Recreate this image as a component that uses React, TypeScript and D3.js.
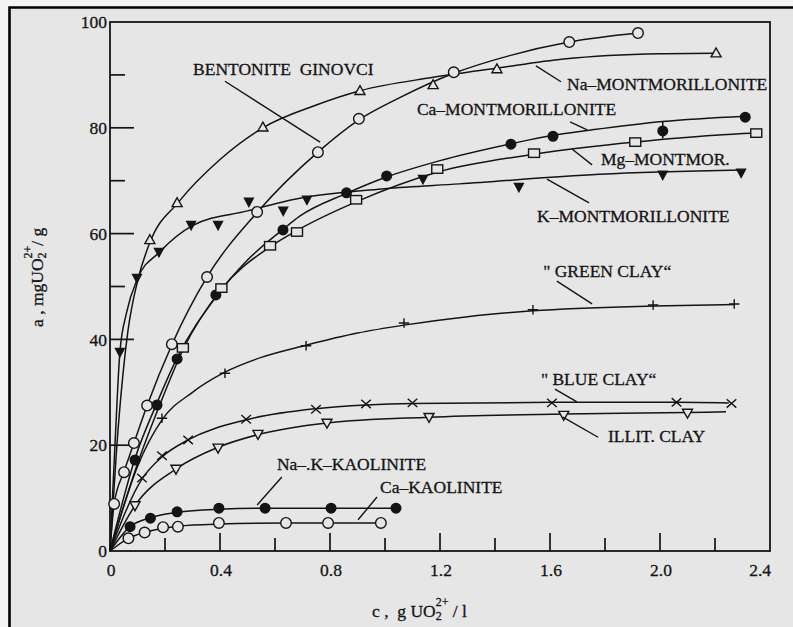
import React from 'react';
import * as d3 from 'd3';

type Pt = [number, number];

const bentonite: Pt[] = [
  [0.015, 8.9], [0.051, 14.9], [0.087, 20.4], [0.135, 27.5], [0.225, 39.1], [0.353, 51.8],
  [0.535, 64.1], [0.756, 75.4], [0.905, 81.7], [1.25, 90.5], [1.67, 96.2], [1.92, 97.9],
];
const naMont: Pt[] = [
  [0.145, 58.8], [0.244, 65.8], [0.556, 80.1], [0.909, 87], [1.175, 88.1], [1.407, 91.1], [2.204, 94.1],
];
const caMont: Pt[] = [
  [0.091, 17.2], [0.171, 27.6], [0.244, 36.3], [0.385, 48.4], [0.629, 60.7], [0.86, 67.7],
  [1.006, 70.9], [1.458, 76.9], [1.611, 78.4], [2.01, 79.4], [2.31, 82],
];
const mgMont: Pt[] = [
  [0.265, 38.4], [0.405, 49.7], [0.582, 57.7], [0.68, 60.3], [0.895, 66.4], [1.19, 72.2],
  [1.542, 75.2], [1.91, 77.3], [2.35, 79],
];
const kMont: Pt[] = [
  [0.036, 37.6], [0.098, 51.6], [0.178, 56.5], [0.295, 61.6], [0.393, 61.6], [0.505, 66],
  [0.63, 64.3], [0.716, 66.4], [1.138, 70.3], [1.487, 68.8], [2.01, 71.1], [2.295, 71.5],
];
const greenClay: Pt[] = [
  [0.189, 25.1], [0.418, 33.6], [0.713, 38.8], [1.069, 43.1], [1.538, 45.6], [1.975, 46.5], [2.27, 46.7],
];
const blueClay: Pt[] = [
  [0.116, 13.8], [0.189, 18], [0.284, 21], [0.495, 24.9], [0.749, 26.8], [0.931, 27.8],
  [1.1, 28], [1.607, 28], [2.06, 28.1], [2.26, 27.9],
];
const illitClay: Pt[] = [
  [0.091, 8.6], [0.24, 15.5], [0.393, 19.5], [0.538, 22.1], [0.789, 24.2], [1.16, 25.3], [1.65, 25.7], [2.1, 26.1],
];
const naKKaol: Pt[] = [
  [0.073, 4.6], [0.147, 6.2], [0.244, 7.4], [0.396, 8.1], [0.564, 8.1], [0.804, 8.1], [1.04, 8.1],
];
const caKaol: Pt[] = [
  [0.067, 2.4], [0.126, 3.5], [0.193, 4.5], [0.247, 4.6], [0.396, 5.3], [0.64, 5.3], [0.793, 5.3], [0.985, 5.3],
];

// the hand drawn isotherm lines
const bentoniteFit: Pt[] = [
  [0, 0], [0.015, 8.9], [0.051, 15], [0.087, 20.4], [0.135, 27.5], [0.225, 39], [0.353, 51.8],
  [0.535, 64], [0.756, 75.4], [0.905, 81.5], [1.05, 85.6], [1.25, 90.3], [1.45, 93.6], [1.67, 96.2], [1.92, 97.9],
];
const naMontFit: Pt[] = [
  [0, 0], [0.025, 20], [0.065, 41.5], [0.1, 51], [0.145, 58.3], [0.25, 66], [0.4, 74], [0.556, 80],
  [0.75, 84.3], [0.909, 87], [1.17, 89.5], [1.41, 91.3], [1.65, 93], [2.0, 94], [2.2, 94.1],
];
const caMontFit: Pt[] = [
  [0, 0], [0.091, 17.5], [0.171, 28], [0.244, 36.5], [0.385, 48], [0.5, 55], [0.629, 60.8], [0.69, 63.3],
  [0.86, 67.6], [1.0, 70.6], [1.2, 73.8], [1.46, 77], [1.61, 78.6], [1.75, 79.6], [2.01, 81.2], [2.31, 82.2],
];
const mgMontFit: Pt[] = [
  [0, 0], [0.1, 16.5], [0.18, 27.5], [0.265, 38], [0.405, 49.5], [0.582, 57.5], [0.68, 60.6], [0.895, 66],
  [1.19, 71.6], [1.542, 75], [1.91, 77.3], [2.2, 78.6], [2.35, 79],
];
const kMontFit: Pt[] = [
  [0, 0], [0.018, 20], [0.036, 37.6], [0.06, 45], [0.1, 51.5], [0.18, 56.5], [0.3, 61.5], [0.5, 64.3],
  [0.69, 66.7], [1.0, 68.5], [1.27, 69.4], [1.78, 71.2], [2.3, 72],
];
const greenFit: Pt[] = [
  [0, 0], [0.1, 16], [0.189, 24.8], [0.3, 30], [0.418, 33.8], [0.55, 36.6], [0.713, 38.9], [0.9, 41.2],
  [1.069, 42.7], [1.3, 44.3], [1.538, 45.4], [1.975, 46.3], [2.27, 46.6],
];
const blueFit: Pt[] = [
  [0, 0], [0.116, 13.6], [0.189, 17.8], [0.284, 21], [0.495, 24.8], [0.749, 26.9], [0.931, 27.6],
  [1.1, 27.9], [1.607, 28.1], [2.06, 28.1], [2.25, 28],
];
const illitFit: Pt[] = [
  [0, 0], [0.091, 8.6], [0.24, 15.5], [0.393, 19.6], [0.538, 22], [0.789, 24.2], [1.16, 25.3],
  [1.65, 25.9], [2.1, 26.2], [2.24, 26.3],
];
const naKFit: Pt[] = [
  [0, 0], [0.073, 4.6], [0.147, 6.3], [0.244, 7.3], [0.396, 7.9], [0.564, 8.1], [0.804, 8.1], [1.04, 8.1],
];
const caKFit: Pt[] = [
  [0, 0], [0.067, 2.4], [0.126, 3.5], [0.193, 4.3], [0.247, 4.7], [0.396, 5.1], [0.64, 5.3], [0.985, 5.3],
];

// error bar on one Ca-montmorillonite point
const caMontBar: [number, number, number][] = [[2.01, 78, 81.2]];

const xTicks = [0, 0.4, 0.8, 1.2, 1.6, 2.0, 2.4];
const xMinor = [0.2, 0.6, 1.0, 1.4, 1.8, 2.2];
const yTicks = [0, 20, 40, 60, 80, 100];
const yMinor = [50, 70, 90];

const BG = '#e6e6e6';
const INK = '#141414';
const FONT = '"Liberation Serif", "Times New Roman", serif';

const series = [
  { pts: bentonite, fit: bentoniteFit, mark: 'openCircle' },
  { pts: naMont, fit: naMontFit, mark: 'triUp' },
  { pts: caMont, fit: caMontFit, mark: 'dot' },
  { pts: mgMont, fit: mgMontFit, mark: 'square' },
  { pts: kMont, fit: kMontFit, mark: 'triDownFilled' },
  { pts: greenClay, fit: greenFit, mark: 'plus' },
  { pts: blueClay, fit: blueFit, mark: 'cross' },
  { pts: illitClay, fit: illitFit, mark: 'triDown' },
  { pts: naKKaol, fit: naKFit, mark: 'dot' },
  { pts: caKaol, fit: caKFit, mark: 'openCircle' },
];

// curve labels: text start, leader line from / to (data units)
const notes = [
  { text: 'BENTONITE  GINOVCI', at: [0.302, 90], from: [0.418, 88.8], to: [0.764, 77.3] },
  { text: 'Na–MONTMORILLONITE', at: [1.662, 87.1], from: [1.549, 91.7], to: [1.64, 88.7] },
  { text: 'Ca–MONTMORILLONITE', at: [1.116, 82.4], from: [1.673, 81.1], to: [1.735, 79.6] },
  { text: 'Mg–MONTMOR.', at: [1.785, 73], from: [1.68, 76], to: [1.753, 73] },
  { text: 'K–MONTMORILLONITE', at: [1.553, 62.2], from: [1.589, 70.3], to: [1.742, 65.8] },
  { text: '" GREEN CLAY“', at: [1.575, 51.8], from: [1.625, 51], to: [1.753, 46.7] },
  { text: '" BLUE CLAY“', at: [1.567, 31.4], from: [1.618, 30.6], to: [1.698, 28.2] },
  { text: 'ILLIT. CLAY', at: [1.811, 20.6], from: [1.647, 25.3], to: [1.775, 21.5] },
  { text: 'Na–.K–KAOLINITE', at: [0.607, 15.3], from: [0.625, 14], to: [0.535, 8.7] },
  { text: 'Ca–KAOLINITE', at: [0.982, 11], from: [0.971, 10.2], to: [0.902, 5.9] },
];

const markPath: Record<string, string> = {
  triUp: 'M0,-5.2L5,3.7L-5,3.7Z',
  triDown: 'M0,5.2L5,-3.7L-5,-3.7Z',
  triDownFilled: 'M0,4.6L4.4,-3.6L-4.4,-3.6Z',
  plus: 'M-5.2,0H5.2M0,-4.8V4.8',
  cross: 'M-4.8,-4.2L4.8,4.2M-4.8,4.2L4.8,-4.2',
};

const useD3 = (renderChartFn: Function, dependencyList: Array<unknown>) => {
  const ref = React.useRef<SVGSVGElement>(null);

  React.useEffect(() => {
    const svg = d3.select(ref.current);
    svg.selectAll('*').remove();
    renderChartFn(svg);
  }, dependencyList); // eslint-disable-line

  return ref;
};

export default function App() {
  const width = 793;
  const height = 627;

  const ref = useD3(
    // @ts-ignore
    (svg) => {
      const x = d3.scaleLinear().domain([0, 2.4]).range([110, 770]);
      const y = d3.scaleLinear().domain([0, 100]).range([551, 22]);

      // paper and scan frame
      svg.append('rect').attr('width', width).attr('height', height).attr('fill', '#f4f4f4');
      svg.append('rect').attr('x', 9).attr('y', 7).attr('width', width).attr('height', height).attr('fill', BG);
      svg.append('path').attr('d', `M9.5,${height}V7.5H${width}`)
        .attr('fill', 'none').attr('stroke', '#000').attr('stroke-width', 2.6);

      // plot box
      svg.append('rect')
        .attr('x', x(0)).attr('y', y(100))
        .attr('width', x(2.4) - x(0)).attr('height', y(0) - y(100))
        .attr('fill', 'none').attr('stroke', INK).attr('stroke-width', 1.8);

      const ticks = svg.append('g').attr('stroke', INK).attr('stroke-width', 1.7);
      ticks.selectAll('.xt').data(xTicks.slice(1, -1)).join('line')
        .attr('x1', (d: number) => x(d)).attr('x2', (d: number) => x(d))
        .attr('y1', y(0)).attr('y2', y(0) - 18);
      ticks.selectAll('.xm').data(xMinor).join('line')
        .attr('x1', (d: number) => x(d)).attr('x2', (d: number) => x(d))
        .attr('y1', y(0)).attr('y2', y(0) - 13);
      ticks.selectAll('.yt').data(yTicks.slice(1, -1)).join('line')
        .attr('y1', (d: number) => y(d)).attr('y2', (d: number) => y(d))
        .attr('x1', x(0)).attr('x2', x(0) + 24);
      ticks.selectAll('.ym').data(yMinor).join('line')
        .attr('y1', (d: number) => y(d)).attr('y2', (d: number) => y(d))
        .attr('x1', x(0)).attr('x2', x(0) + 15);

      const labels = svg.append('g')
        .attr('font-family', FONT).attr('font-size', 17.5).attr('fill', INK)
        .attr('stroke', INK).attr('stroke-width', 0.3);
      labels.selectAll('.xl').data(xTicks).join('text')
        .attr('x', (d: number) => x(d) + 1)
        .attr('y', 576)
        .attr('text-anchor', (d: number) => (d === 2.4 ? 'end' : 'middle'))
        .text((d: number) => (d === 0 ? '0' : d3.format('.1f')(d)));
      labels.selectAll('.yl').data(yTicks).join('text')
        .attr('x', x(0) - 3).attr('y', (d: number) => y(d))
        .attr('dy', '0.35em').attr('text-anchor', 'end')
        .text((d: number) => String(d));

      // axis titles
      const xt = labels.append('text').attr('x', 372).attr('y', 617).style('white-space', 'pre');
      xt.append('tspan').text('c ,  g UO');
      xt.append('tspan').attr('font-size', 12).attr('dy', 3).text('2');
      xt.append('tspan').attr('font-size', 12).attr('dx', -6).attr('dy', -14).text('2+');
      xt.append('tspan').attr('dy', 11).text(' / l');

      const yt = labels.append('text').attr('transform', 'translate(43,327) rotate(-90)').style('white-space', 'pre');
      yt.append('tspan').text('a , mgUO');
      yt.append('tspan').attr('font-size', 12).attr('dy', 3).text('2');
      yt.append('tspan').attr('font-size', 12).attr('dx', -6).attr('dy', -14).text('2+');
      yt.append('tspan').attr('dy', 11).text('/ g');

      // isotherm lines
      const line = d3.line<Pt>().x((d) => x(d[0])).y((d) => y(d[1])).curve(d3.curveMonotoneX);
      svg.append('g').selectAll('path').data(series).join('path')
        .attr('d', (s: any) => line(s.fit))
        .attr('fill', 'none').attr('stroke', INK).attr('stroke-width', 1.5);

      svg.append('g').selectAll('line').data(caMontBar).join('line')
        .attr('x1', (d: number[]) => x(d[0])).attr('x2', (d: number[]) => x(d[0]))
        .attr('y1', (d: number[]) => y(d[1])).attr('y2', (d: number[]) => y(d[2]))
        .attr('stroke', INK).attr('stroke-width', 1.5);

      // markers
      series.forEach((s) => {
        const g = svg.append('g');
        const sel = g.selectAll('.m').data(s.pts);
        if (s.mark === 'openCircle' || s.mark === 'dot') {
          sel.join('circle')
            .attr('cx', (d: Pt) => x(d[0])).attr('cy', (d: Pt) => y(d[1]))
            .attr('r', s.mark === 'dot' ? 4.8 : 5.3)
            .attr('fill', s.mark === 'dot' ? INK : BG)
            .attr('stroke', INK).attr('stroke-width', 1.4);
        } else if (s.mark === 'square') {
          sel.join('rect')
            .attr('x', (d: Pt) => x(d[0]) - 5.5).attr('y', (d: Pt) => y(d[1]) - 4.2)
            .attr('width', 11).attr('height', 8.4)
            .attr('fill', BG).attr('stroke', INK).attr('stroke-width', 1.4);
        } else {
          const filled = s.mark === 'triDownFilled';
          const hollow = s.mark === 'triUp' || s.mark === 'triDown';
          sel.join('path')
            .attr('transform', (d: Pt) => `translate(${x(d[0])},${y(d[1])})`)
            .attr('d', markPath[s.mark])
            .attr('fill', filled ? INK : hollow ? BG : 'none')
            .attr('stroke', INK).attr('stroke-width', 1.4);
        }
      });

      // curve names with leader lines
      const ann = svg.append('g');
      ann.selectAll('line').data(notes).join('line')
        .attr('x1', (d: any) => x(d.from[0])).attr('y1', (d: any) => y(d.from[1]))
        .attr('x2', (d: any) => x(d.to[0])).attr('y2', (d: any) => y(d.to[1]))
        .attr('stroke', INK).attr('stroke-width', 1.4);
      ann.selectAll('text').data(notes).join('text')
        .attr('x', (d: any) => x(d.at[0])).attr('y', (d: any) => y(d.at[1]))
        .attr('font-family', FONT).attr('font-size', 17.5).attr('fill', INK)
        .attr('stroke', INK).attr('stroke-width', 0.3)
        .style('white-space', 'pre')
        .text((d: any) => d.text);
    },
    []
  );

  return (
    <svg
      ref={ref}
      width={width}
      height={height}
      style={{ position: 'absolute', left: 0, top: 0, display: 'block' }}
    />
  );
}
